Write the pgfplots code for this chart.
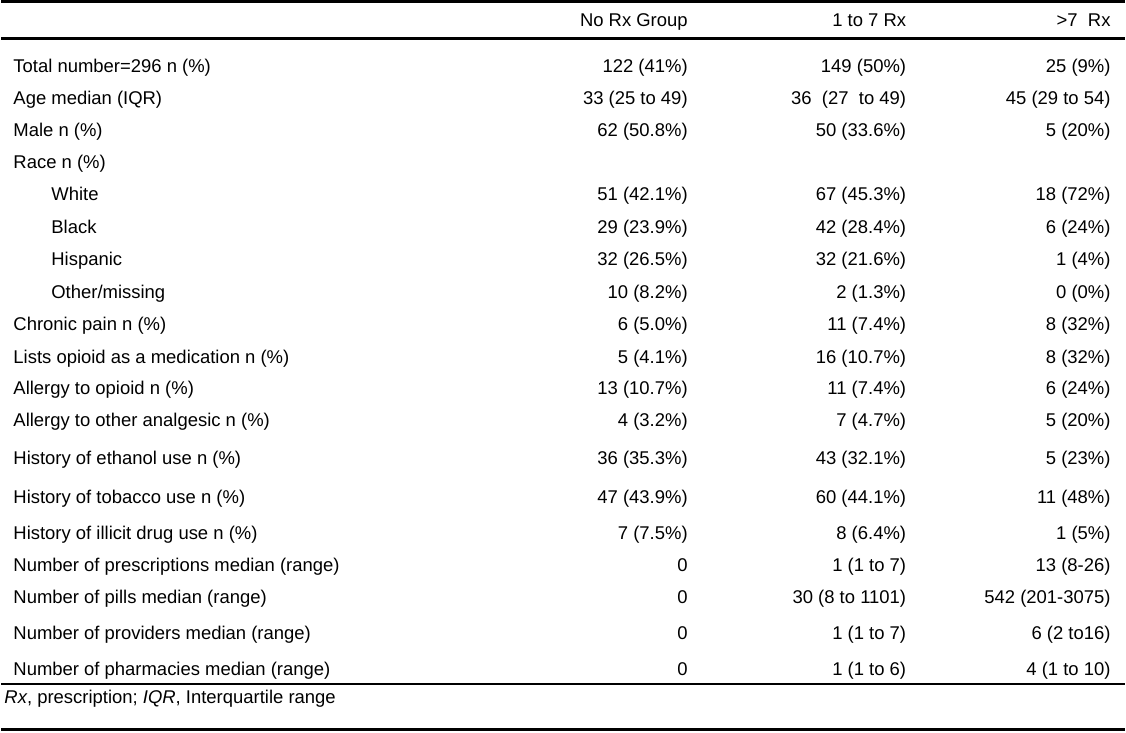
\documentclass[border=0pt]{standalone}
\usepackage{pgfplots}
\pgfplotsset{compat=1.18}
\usepackage{fontspec}
\setmainfont{Liberation Sans}
\newcommand\trow[5]{%
  \node[anchor=base west] at (axis cs:12,#1) {#2};
  \node[anchor=base east] at (axis cs:688,#1) {#3};
  \node[anchor=base east] at (axis cs:907,#1) {#4};
  \node[anchor=base east] at (axis cs:1112,#1) {#5};}
\newcommand\irow[5]{%
  \node[anchor=base west] at (axis cs:50,#1) {#2};
  \node[anchor=base east] at (axis cs:688,#1) {#3};
  \node[anchor=base east] at (axis cs:907,#1) {#4};
  \node[anchor=base east] at (axis cs:1112,#1) {#5};}
\begin{document}
\begin{tikzpicture}[every node/.style={font=\fontsize{18.5bp}{22bp}\selectfont, inner sep=0pt, outer sep=0pt}]
\begin{axis}[width=1126bp, height=734bp, scale only axis,
  xmin=0, xmax=1126, ymin=0, ymax=734, y dir=reverse,
  hide axis, clip=false]
\path (axis cs:0,0) rectangle (axis cs:1126,734);
\addplot[black, line width=3bp, forget plot] coordinates {(0,1.5) (1126,1.5)};
\addplot[black, line width=3bp, forget plot] coordinates {(0,39) (1126,39)};
\addplot[black, line width=2.5bp, forget plot] coordinates {(0,686) (1126,686)};
\addplot[black, line width=3bp, forget plot] coordinates {(0,731.5) (1126,731.5)};
\trow{27}{}{No Rx Group}{1 to 7 Rx}{>7\ \ Rx}
\trow{73}{Total number=296 n (\%)}{122 (41\%)}{149 (50\%)}{25 (9\%)}
\trow{105}{Age median (IQR)}{33 (25 to 49)}{36\ \ (27\ \ to 49)}{45 (29 to 54)}
\trow{137}{Male n (\%)}{62 (50.8\%)}{50 (33.6\%)}{5 (20\%)}
\trow{169}{Race n (\%)}{}{}{}
\irow{201}{White}{51 (42.1\%)}{67 (45.3\%)}{18 (72\%)}
\irow{234}{Black}{29 (23.9\%)}{42 (28.4\%)}{6 (24\%)}
\irow{266}{Hispanic}{32 (26.5\%)}{32 (21.6\%)}{1 (4\%)}
\irow{299}{Other/missing}{10 (8.2\%)}{2 (1.3\%)}{0 (0\%)}
\trow{331}{Chronic pain n (\%)}{6 (5.0\%)}{11 (7.4\%)}{8 (32\%)}
\trow{364}{Lists opioid as a medication n (\%)}{5 (4.1\%)}{16 (10.7\%)}{8 (32\%)}
\trow{396}{Allergy to opioid n (\%)}{13 (10.7\%)}{11 (7.4\%)}{6 (24\%)}
\trow{428}{Allergy to other analgesic n (\%)}{4 (3.2\%)}{7 (4.7\%)}{5 (20\%)}
\trow{466}{History of ethanol use n (\%)}{36 (35.3\%)}{43 (32.1\%)}{5 (23\%)}
\trow{505}{History of tobacco use n (\%)}{47 (43.9\%)}{60 (44.1\%)}{11 (48\%)}
\trow{541}{History of illicit drug use n (\%)}{7 (7.5\%)}{8 (6.4\%)}{1 (5\%)}
\trow{573}{Number of prescriptions median (range)}{0}{1 (1 to 7)}{13 (8-26)}
\trow{605}{Number of pills median (range)}{0}{30 (8 to 1101)}{542 (201-3075)}
\trow{641}{Number of providers median (range)}{0}{1 (1 to 7)}{6 (2 to16)}
\trow{677}{Number of pharmacies median (range)}{0}{1 (1 to 6)}{4 (1 to 10)}
\node[anchor=base west] at (axis cs:3,705) {\textit{Rx}, prescription; \textit{IQR}, Interquartile range};
\end{axis}
\end{tikzpicture}
\end{document}
